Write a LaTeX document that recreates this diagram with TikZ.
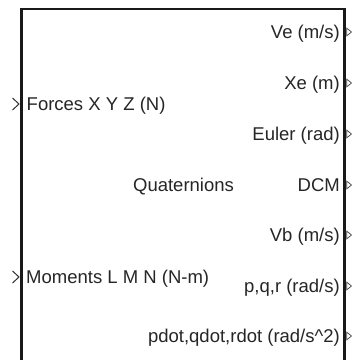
\documentclass[tikz,border=0pt]{standalone}
\usepackage{fontspec}
\setmainfont{Liberation Sans}
\begin{document}
\begin{tikzpicture}[x=1pt,y=1pt,
  lbl/.style={inner sep=0pt,font=\fontsize{18.5}{20}\selectfont,text=black!85},
  outlbl/.style={lbl,anchor=base east},
  inlbl/.style={lbl,anchor=base west},
  blockframe/.style={draw=black!90,line width=2.4pt,line cap=rect},
  outport/.style={draw=black!75,line width=0.7pt,line join=miter},
  inport/.style={draw=black!80,line width=1pt}]
\fill[white] (0,0) rectangle (356,360);
\useasboundingbox (0,0) rectangle (356,360);

% block body, open at the lower edge
\coordinate (lowleft) at (21.5,-5);
\coordinate (topleft) at (21.5,351);
\coordinate (topright) at (344.5,351);
\coordinate (lowright) at (344.5,-5);
\draw[blockframe] (lowleft) -- (topleft);
\draw[blockframe] (topleft) -- (topright);
\draw[blockframe] (topright) -- (lowright);

% output ports
\foreach \nm/\yy in {ve/328,xe/277,eul/226,dcm/175,vb/125,pqr/74,pdot/24}{
  \coordinate (\nm) at (346,\yy);
  \draw[outport] (346.8,\yy+3.8) -- (351.5,\yy) -- (346.8,\yy-3.8) -- cycle;
}
\node[outlbl] (tve)   at (340,321.5) {Ve (m/s)};
\node[outlbl] (txe)   at (340,270.5) {Xe (m)};
\node[outlbl] (teul)  at (340,219.5) {Euler (rad)};
\node[outlbl] (tdcm)  at (340,168.5) {DCM};
\node[outlbl] (tvb)   at (340,118.5) {Vb (m/s)};
\node[outlbl] (tpqr)  at (340,67.5)  {p,q,r (rad/s)};
\node[outlbl] (tpdot) at (340,17.5)  {pdot,qdot,rdot (rad/s\textasciicircum 2)};

% input ports
\foreach \nm/\yy in {frc/256,mom/83}{
  \coordinate (\nm) at (12.5,\yy);
  \draw[inport] (12.5,\yy+6) -- (19,\yy) -- (12.5,\yy-6);
}
\node[inlbl] (tfrc) at (26.5,249.5) {Forces X Y Z (N)};
\node[inlbl] (tmom) at (26,76.5)    {Moments L M N (N-m)};

% block name
\node[lbl,anchor=base] (tq) at (183.5,168.5) {Quaternions};
\end{tikzpicture}
\end{document}
